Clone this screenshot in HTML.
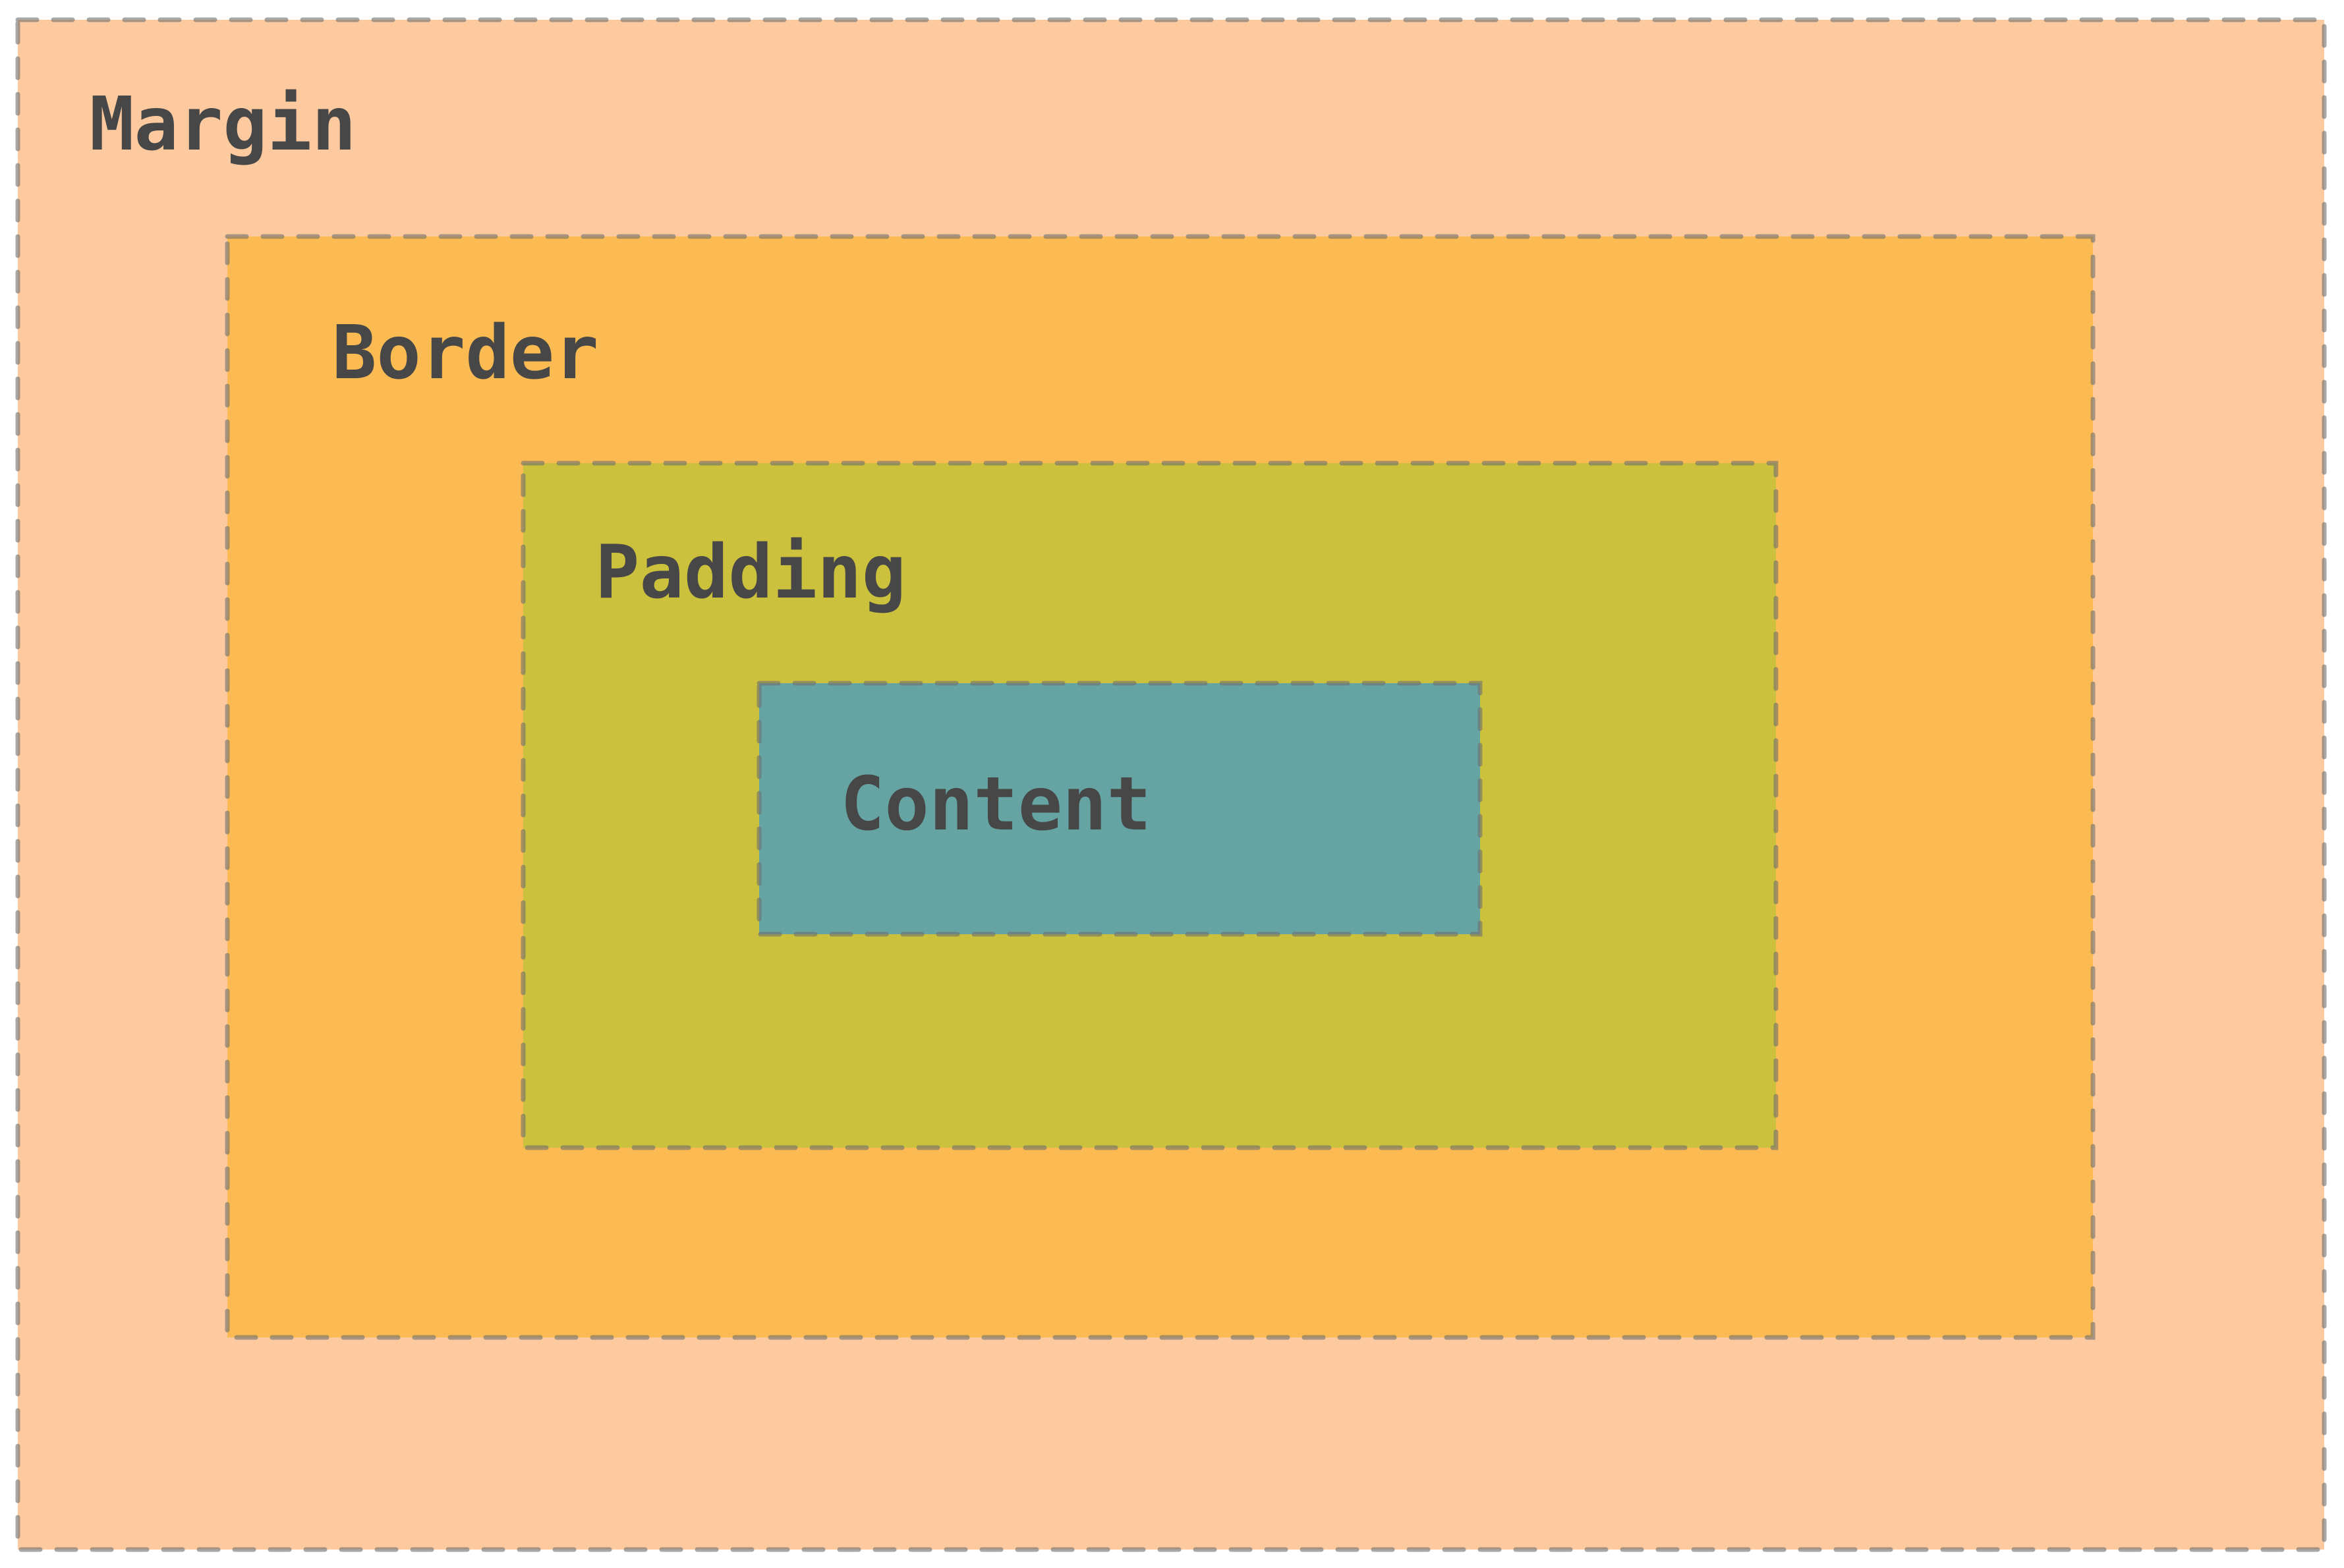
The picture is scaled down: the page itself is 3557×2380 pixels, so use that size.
<!DOCTYPE html>
<html><head><meta charset="utf-8"><style>html,body{margin:0;padding:0;background:#fff}svg{display:block}</style></head>
<body>
<svg width="3557" height="2380" viewBox="0 0 3557 2380" xmlns="http://www.w3.org/2000/svg">
<g stroke="rgba(110,110,110,0.6)" stroke-width="7" stroke-dasharray="29 25" stroke-linecap="round">
<rect x="27" y="30" width="3500" height="2322" fill="#fdca9f"/>
<rect x="345" y="359" width="2831" height="1671" fill="#fcbb52"/>
<rect x="794" y="703" width="1901" height="1039" fill="#cbc13d"/>
<rect x="1152" y="1037" width="1094" height="381" fill="#66a3a3"/>
</g>
<g font-family="'DejaVu Sans Mono','Liberation Mono',monospace" font-size="112" font-weight="bold" fill="#474747">
<text x="136" y="227">Margin</text>
<text x="504" y="574">Border</text>
<text x="903" y="907">Padding</text>
<text x="1275" y="1259">Content</text>
</g>
</svg>
</body></html>
